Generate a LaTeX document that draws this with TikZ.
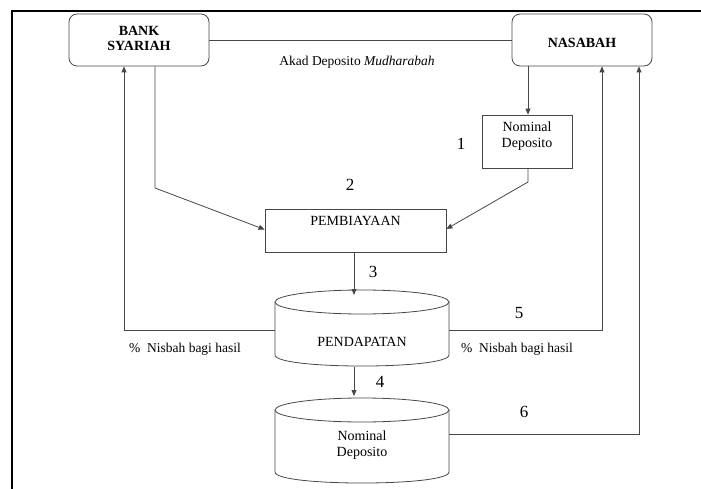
\documentclass[tikz,border=0pt]{standalone}
\usepackage{fontspec}
\setmainfont{Liberation Serif}
\usetikzlibrary{arrows.meta}
\begin{document}
\begin{tikzpicture}[x=1pt,y=1pt,
  ln/.style={draw=black!72, line width=0.8pt},
  arr/.style={ln, -{Triangle[length=6pt,width=5pt]}},
  rbox/.style={ln, rounded corners=8pt, minimum width=140pt, minimum height=52pt, inner sep=0pt},
  sbox/.style={ln, minimum width=90pt, minimum height=53pt, inner sep=0pt},
  ghost/.style={inner sep=0pt, draw=none},
  btxt/.style={font=\fontsize{14}{15}\selectfont\bfseries, align=center, inner sep=0pt},
  ntxt/.style={font=\fontsize{14}{16}\selectfont, align=center, inner sep=0pt},
  lbl/.style={font=\fontsize{13.5}{15}\selectfont, inner sep=0pt},
  num/.style={font=\fontsize{17}{18}\selectfont, inner sep=0pt}
]
\useasboundingbox (0,0) rectangle (701,-489);
% frame (top and left edges)
\draw[line width=2pt] (12,-489) -- (12,-11) -- (701,-11);

% boxes
\node[rbox] (bank) at (139,-40) {};
\node[btxt] (banktxt) at (139,-38) {BANK\\SYARIAH};
\node[rbox] (nas) at (582,-40) {};
\node[btxt] (nastxt) at (582,-43) {NASABAH};
\node[sbox] (nom) at (527,-141.5) {};
\node[ntxt] (nomtxt) at (527,-136) {Nominal\\Deposito};
\node[ln, minimum width=181pt, minimum height=43pt, inner sep=0pt] (pemb) at (355.5,-230.5) {};
\node[ntxt] (pembtxt) at (355.5,-221) {PEMBIAYAAN};

% cylinders
\node[ghost, minimum width=174pt, minimum height=76pt] (pend) at (362,-328) {};
\draw[ln] (362,-302) ellipse [x radius=87, y radius=12];
\draw[ln] (275,-302) -- (275,-355) .. controls (275,-369.7) and (449,-369.7) .. (449,-355) -- (449,-302);
\node[ntxt] (pendtxt) at (362,-342) {PENDAPATAN};

\node[ghost, minimum width=174pt, minimum height=86pt] (dep) at (362,-440) {};
\draw[ln] (362,-410) ellipse [x radius=87, y radius=12];
\draw[ln] (275,-410) -- (275,-472) .. controls (275,-486.7) and (449,-486.7) .. (449,-472) -- (449,-410);
\node[ntxt] (deptxt) at (362,-445) {Nominal\\Deposito};

% helper coordinates
\coordinate (b1) at (155,-188);
\coordinate (n1) at (528,-182);
\coordinate (lc) at (124,-330);
\coordinate (rc) at (602,-330);
\coordinate (sc) at (639,-434);

% connectors
\draw[ln] (bank.east) -- (nas.west);
\draw[arr] (nas.south -| 528,0) -- (nom.north -| 528,0);
\draw[arr] (bank.south -| b1) -- (b1) -- ([yshift=1pt]pemb.west);
\draw[arr] (nom.south -| n1) -- (n1) -- ([yshift=1.5pt]pemb.east);
\draw[arr] (pemb.south -| 354,0) -- (354,-295);
\draw[arr] (pend.west |- lc) -- (lc) -- (bank.south -| lc);
\draw[arr] (pend.east |- rc) -- (rc) -- (nas.south -| rc);
\draw[arr] (354,-367) -- (354,-396);
\draw[arr] (dep.east |- sc) -- (sc) -- (nas.south -| sc);

% labels
\node[lbl] (akad) at (357,-62) {Akad Deposito \textit{Mudharabah}};
\node[lbl] (nisL) at (185,-349) {\%\ \ Nisbah bagi hasil};
\node[lbl] (nisR) at (517,-349) {\%\ \ Nisbah bagi hasil};
\node[num] (n1l) at (461,-144) {1};
\node[num] (n2l) at (350,-185) {2};
\node[num] (n3l) at (373,-272) {3};
\node[num] (n4l) at (380,-382) {4};
\node[num] (n5l) at (519,-313) {5};
\node[num] (n6l) at (524,-412) {6};
\end{tikzpicture}
\end{document}
